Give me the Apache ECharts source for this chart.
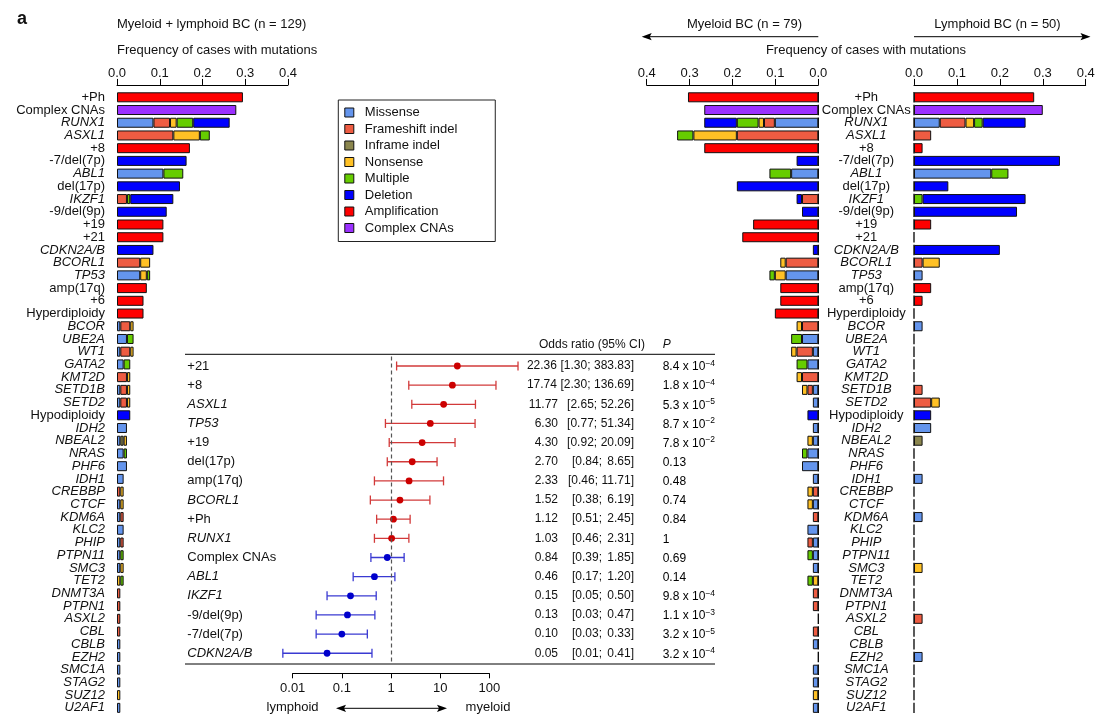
<!DOCTYPE html>
<html><head><meta charset="utf-8">
<script src="https://cdn.jsdelivr.net/npm/echarts@6/dist/echarts.min.js"></script>
<style>html,body{margin:0;padding:0;background:#fff}#c{width:1107px;height:719px}</style>
</head><body><div id="c"></div>
<script>
// ---------------- DATA ----------------
const categories = ['+Ph','Complex CNAs','RUNX1','ASXL1','+8','-7/del(7p)','ABL1','del(17p)','IKZF1','-9/del(9p)',
  '+19','+21','CDKN2A/B','BCORL1','TP53','amp(17q)','+6','Hyperdiploidy','BCOR','UBE2A',
  'WT1','GATA2','KMT2D','SETD1B','SETD2','Hypodiploidy','IDH2','NBEAL2','NRAS','PHF6',
  'IDH1','CREBBP','CTCF','KDM6A','KLC2','PHIP','PTPN11','SMC3','TET2','DNMT3A',
  'PTPN1','ASXL2','CBL','CBLB','EZH2','SMC1A','STAG2','SUZ12','U2AF1'];
const cnaLabels = ['+Ph','Complex CNAs','+8','-7/del(7p)','del(17p)','-9/del(9p)','+19','+21','amp(17q)','+6','Hyperdiploidy','Hypodiploidy'];
const mutationTypes = ['Missense','Frameshift indel','Inframe indel','Nonsense','Multiple','Deletion','Amplification','Complex CNAs'];
const nMyeloid = 79, nLymphoid = 50;

// case counts, myeloid BC (n = 79)
const myeloidMissense     = [0,0,8,0,0,0,5,0,0,0, 0,0,0,0,6,0,0,0,0,3, 1,2,0,1,1,0,1,1,2,3, 1,0,1,0,2,1,1,1,0,0, 0,0,0,1,0,1,1,0,1];
const myeloidFrameshift   = [0,0,2,15,0,0,0,0,3,0, 0,0,0,6,0,0,0,0,3,0, 3,0,3,1,0,0,0,0,0,0, 0,1,0,1,0,1,0,0,0,1, 1,0,1,0,0,0,0,0,0];
const myeloidInframe      = [0,0,0,0,0,0,0,0,0,0, 0,0,0,0,0,0,0,0,0,0, 0,0,0,0,0,0,0,0,0,0, 0,0,0,0,0,0,0,0,0,0, 0,0,0,0,0,0,0,0,0];
const myeloidNonsense     = [0,0,1,8,0,0,0,0,0,0, 0,0,0,1,2,0,0,0,1,0, 1,0,1,1,0,0,0,1,0,0, 0,1,1,0,0,0,0,0,1,0, 0,0,0,0,0,0,0,1,0];
const myeloidMultiple     = [0,0,4,3,0,0,4,0,0,0, 0,0,0,0,1,0,0,0,0,2, 0,2,0,0,0,0,0,0,1,0, 0,0,0,0,0,0,1,0,1,0, 0,0,0,0,0,0,0,0,0];
const myeloidDeletion     = [0,0,6,0,0,4,0,15,1,3, 0,0,1,0,0,0,0,0,0,0, 0,0,0,0,0,2,0,0,0,0, 0,0,0,0,0,0,0,0,0,0, 0,0,0,0,0,0,0,0,0];
const myeloidAmplification= [24,0,0,0,21,0,0,0,0,0, 12,14,0,0,0,7,7,8,0,0, 0,0,0,0,0,0,0,0,0,0, 0,0,0,0,0,0,0,0,0,0, 0,0,0,0,0,0,0,0,0];
const myeloidComplex      = [0,21,0,0,0,0,0,0,0,0, 0,0,0,0,0,0,0,0,0,0, 0,0,0,0,0,0,0,0,0,0, 0,0,0,0,0,0,0,0,0,0, 0,0,0,0,0,0,0,0,0];

// case counts, lymphoid BC (n = 50)
const lymphoidMissense     = [0,0,3,0,0,0,9,0,0,0, 0,0,0,0,1,0,0,0,1,0, 0,0,0,0,0,0,2,0,0,0, 1,0,0,1,0,0,0,0,0,0, 0,0,0,0,1,0,0,0,0];
const lymphoidFrameshift   = [0,0,3,2,0,0,0,0,0,0, 0,0,0,1,0,0,0,0,0,0, 0,0,0,1,2,0,0,0,0,0, 0,0,0,0,0,0,0,0,0,0, 0,1,0,0,0,0,0,0,0];
const lymphoidInframe      = [0,0,0,0,0,0,0,0,0,0, 0,0,0,0,0,0,0,0,0,0, 0,0,0,0,0,0,0,1,0,0, 0,0,0,0,0,0,0,0,0,0, 0,0,0,0,0,0,0,0,0];
const lymphoidNonsense     = [0,0,1,0,0,0,0,0,0,0, 0,0,0,2,0,0,0,0,0,0, 0,0,0,0,1,0,0,0,0,0, 0,0,0,0,0,0,0,1,0,0, 0,0,0,0,0,0,0,0,0];
const lymphoidMultiple     = [0,0,1,0,0,0,2,0,1,0, 0,0,0,0,0,0,0,0,0,0, 0,0,0,0,0,0,0,0,0,0, 0,0,0,0,0,0,0,0,0,0, 0,0,0,0,0,0,0,0,0];
const lymphoidDeletion     = [0,0,5,0,0,17,0,4,12,12, 0,0,10,0,0,0,0,0,0,0, 0,0,0,0,0,2,0,0,0,0, 0,0,0,0,0,0,0,0,0,0, 0,0,0,0,0,0,0,0,0];
const lymphoidAmplification= [14,0,0,0,1,0,0,0,0,0, 2,0,0,0,0,2,1,0,0,0, 0,0,0,0,0,0,0,0,0,0, 0,0,0,0,0,0,0,0,0,0, 0,0,0,0,0,0,0,0,0];
const lymphoidComplex      = [0,15,0,0,0,0,0,0,0,0, 0,0,0,0,0,0,0,0,0,0, 0,0,0,0,0,0,0,0,0,0, 0,0,0,0,0,0,0,0,0,0, 0,0,0,0,0,0,0,0,0];

const freqTicks = ['0.0','0.1','0.2','0.3','0.4'];

// forest plot (odds ratio myeloid vs lymphoid)
const forestLabels = ['+21','+8','ASXL1','TP53','+19','del(17p)','amp(17q)','BCORL1','+Ph','RUNX1','Complex CNAs','ABL1','IKZF1','-9/del(9p)','-7/del(7p)','CDKN2A/B'];
const oddsRatio = [22.36,17.74,11.77,6.30,4.30,2.70,2.33,1.52,1.12,1.03,0.84,0.46,0.15,0.13,0.10,0.05];
const ciLower   = [1.30,2.30,2.65,0.77,0.92,0.84,0.46,0.38,0.51,0.46,0.39,0.17,0.05,0.03,0.03,0.0063];
const ciUpper   = [383.83,136.69,52.26,51.34,20.09,8.65,11.71,6.19,2.45,2.31,1.85,1.20,0.50,0.47,0.33,0.41];
const pValues   = [8.4e-4,1.8e-4,5.3e-5,8.7e-2,7.8e-2,0.13,0.48,0.74,0.84,1,0.69,0.14,9.8e-4,1.1e-3,3.2e-5,3.2e-4];
const forestTicks = ['0.01','0.1','1','10','100'];

// ---------------- STYLE ----------------
const FONT = '"Liberation Sans", Arial, Helvetica, sans-serif';
const TXT = '#111';
const typeColors = ['#6495ED','#EE5C42','#8B864E','#FFC125','#66CD00','#0000FF','#FF0000','#9B30FF'];

const myeloidCounts = [myeloidMissense,myeloidFrameshift,myeloidInframe,myeloidNonsense,myeloidMultiple,myeloidDeletion,myeloidAmplification,myeloidComplex];
const lymphoidCounts = [lymphoidMissense,lymphoidFrameshift,lymphoidInframe,lymphoidNonsense,lymphoidMultiple,lymphoidDeletion,lymphoidAmplification,lymphoidComplex];

const TOP = 90.94, ROWH = 12.72, H = ROWH * categories.length;

const measureCtx = document.createElement('canvas').getContext('2d');
function textW(s, font) { measureCtx.font = font; return measureCtx.measureText(s).width; }

const labelRich = {
  n: {fontSize: 13, fontFamily: FONT, color: TXT, fontStyle: 'normal'},
  i: {fontSize: 13, fontFamily: FONT, color: TXT, fontStyle: 'italic'}
};
const labelFmt = v => cnaLabels.includes(v) ? '{n|' + v + '}' : '{i|' + v + '}';

function freqAxis(gi, inverse) {
  return {
    type: 'value', gridIndex: gi, position: 'top', min: 0, max: 0.4, interval: 0.1, inverse: inverse,
    offset: 6,
    axisLine: {show: true, onZero: false, lineStyle: {color: '#000', width: 1}},
    axisTick: {show: true, length: 6, lineStyle: {color: '#000', width: 1}},
    axisLabel: {margin: 5.5, fontSize: 13, fontFamily: FONT, color: TXT,
      formatter: v => freqTicks[Math.round(v * 10)]},
    splitLine: {show: false}
  };
}

const series = [];
mutationTypes.forEach((name, t) => {
  const comb = categories.map((c, i) => myeloidCounts[t][i] + lymphoidCounts[t][i]);
  const base = {type: 'bar', name: name, barWidth: 10, animation: false,
    itemStyle: {color: typeColors[t], borderColor: '#111', borderWidth: 1}};
  series.push(Object.assign({}, base, {xAxisIndex: 0, yAxisIndex: 0, stack: 'all',
    data: comb.map(v => v ? v / (nMyeloid + nLymphoid) : '-')}));
  series.push(Object.assign({}, base, {xAxisIndex: 1, yAxisIndex: 1, stack: 'mye',
    data: myeloidCounts[t].map(v => v ? v / nMyeloid : '-')}));
  series.push(Object.assign({}, base, {xAxisIndex: 2, yAxisIndex: 2, stack: 'lym',
    data: lymphoidCounts[t].map(v => v ? v / nLymphoid : '-')}));
});

// zero baseline ticks of the myeloid / lymphoid panels (one short segment per row)
[1, 2].forEach(ax => {
  series.push({
    type: 'custom', name: 'zero' + ax, xAxisIndex: ax, yAxisIndex: ax, clip: false, animation: false, silent: true,
    encode: {x: 0, y: 1},
    data: categories.map((c, i) => [0, i]),
    renderItem: (params, api) => {
      const pt = api.coord([0, api.value(1)]);
      return {type: 'line', shape: {x1: pt[0], y1: pt[1] - 5.2, x2: pt[0], y2: pt[1] + 5.2},
        style: {stroke: '#000', lineWidth: 1.3}};
    }
  });
});

function pRich(p) {
  if (p < 0.1) {
    const e = Math.floor(Math.log10(p) + 1e-9);
    const m = (p / Math.pow(10, e)).toFixed(1);
    return '{a|' + m + ' x 10}{b|\u2212' + Math.abs(e) + '}';
  }
  return '{a|' + String(p) + '}';
}

const F12 = '12px ' + FONT;
function renderForest(params, api) {
  const or = api.value(0), i = api.value(1), lo = api.value(2), hi = api.value(3), p = api.value(4);
  const pt = api.coord([or, i]);
  const y = pt[1];
  const xl = api.coord([lo, i])[0], xh = api.coord([hi, i])[0];
  const up = or >= 1;
  const lineC = up ? '#D23A3A' : '#3A3AD2';
  const dotC = up ? '#CC0000' : '#0000CC';
  const name = forestLabels[i];
  const it = cnaLabels.includes(name) ? '' : 'italic ';
  const hiTxt = hi.toFixed(2) + ']';
  const loTxt = '[' + lo.toFixed(2) + ';';
  const hiStart = 634 - textW(hiTxt, F12);
  const loLeft = Math.min(572, hiStart - 3.5 - textW(loTxt, F12));
  const orRight = Math.min(558, loLeft - 3.5);
  return {
    type: 'group',
    children: [
      {type: 'line', shape: {x1: xl, y1: y, x2: xh, y2: y}, style: {stroke: lineC, lineWidth: 1.3}},
      {type: 'line', shape: {x1: xl, y1: y - 4.5, x2: xl, y2: y + 4.5}, style: {stroke: lineC, lineWidth: 1.3}},
      {type: 'line', shape: {x1: xh, y1: y - 4.5, x2: xh, y2: y + 4.5}, style: {stroke: lineC, lineWidth: 1.3}},
      {type: 'circle', shape: {cx: pt[0], cy: y, r: 3.4}, style: {fill: dotC}},
      {type: 'text', x: 187.3, y: y, style: {text: name, font: it + '13px ' + FONT, fill: TXT, align: 'left', verticalAlign: 'middle'}},
      {type: 'text', x: orRight, y: y, style: {text: or.toFixed(2), font: F12, fill: TXT, align: 'right', verticalAlign: 'middle'}},
      {type: 'text', x: loLeft, y: y, style: {text: loTxt, font: F12, fill: TXT, align: 'left', verticalAlign: 'middle'}},
      {type: 'text', x: 634, y: y, style: {text: hiTxt, font: F12, fill: TXT, align: 'right', verticalAlign: 'middle'}},
      {type: 'text', x: 662.7, y: y + 1, style: {text: pRich(p), align: 'left', verticalAlign: 'middle',
        rich: {a: {fontSize: 12, fontFamily: FONT, color: TXT, lineHeight: 16},
               b: {fontSize: 8.5, fontFamily: FONT, color: TXT, lineHeight: 16, verticalAlign: 'top', padding: [0, 0, 8, 0]}}}}
    ]
  };
}

series.push({
  type: 'custom', name: 'forest', xAxisIndex: 3, yAxisIndex: 3, clip: false, animation: false,
  renderItem: renderForest,
  encode: {x: 0, y: 1},
  data: forestLabels.map((l, i) => [oddsRatio[i], i, ciLower[i], ciUpper[i], pValues[i]]),
  markLine: {silent: true, symbol: 'none', animation: false, label: {show: false},
    lineStyle: {type: [4, 3], color: '#555', width: 1.2}, data: [{xAxis: 1}]}
});

function txt(x, y, text, opts) {
  return Object.assign({type: 'text', x: x, y: y, silent: true,
    style: Object.assign({text: text, font: '13px ' + FONT, fill: TXT, align: 'left', verticalAlign: 'middle'}, opts || {})});
}
function hline(x1, x2, y, w) {
  return {type: 'line', silent: true, shape: {x1: x1, y1: y, x2: x2, y2: y}, style: {stroke: '#000', lineWidth: w || 1}};
}
function head(x, y, dir) {
  return {type: 'polygon', silent: true, shape: {points: [[x, y], [x - dir * 10, y - 3.6], [x - dir * 8, y], [x - dir * 10, y + 3.6]]}, style: {fill: '#000'}};
}

const graphics = [
  txt(17, 19, 'a', {font: 'bold 18px ' + FONT}),
  txt(117, 24.5, 'Myeloid + lymphoid BC (n = 129)'),
  txt(117, 50, 'Frequency of cases with mutations'),
  txt(744.5, 24.5, 'Myeloid BC (n = 79)', {align: 'center'}),
  hline(644, 818.3, 36.7), head(641.7, 36.7, -1),
  txt(866, 50, 'Frequency of cases with mutations', {align: 'center'}),
  txt(997.5, 24.5, 'Lymphoid BC (n = 50)', {align: 'center'}),
  hline(914, 1088, 36.7), head(1090.5, 36.7, 1),
  txt(645, 344.3, 'Odds ratio (95% CI)', {align: 'right', font: '12px ' + FONT}),
  txt(662.7, 344.3, 'P', {font: 'italic 12px ' + FONT}),
  hline(185, 715, 354.3), hline(185, 715, 664),
  txt(292.5, 707.5, 'lymphoid', {align: 'center'}),
  txt(488, 707.5, 'myeloid', {align: 'center'}),
  hline(340, 443, 708.3), head(336, 708.3, -1), head(447, 708.3, 1)
];

const grids = [
  {left: 117, top: TOP, width: 171, height: H},
  {left: 646.7, top: TOP, width: 171.6, height: H},
  {left: 914, top: TOP, width: 171.7, height: H},
  {left: 292.7, top: 356.4, width: 196.6, height: 306.4}
].map(g => Object.assign({containLabel: false, outerBoundsMode: 'none', show: false}, g));

const option = {
  animation: false,
  backgroundColor: '#fff',
  textStyle: {fontFamily: FONT},
  grid: grids,
  legend: {
    show: true, left: 338.3, top: 100, orient: 'vertical', data: mutationTypes, icon: 'rect',
    itemWidth: 9, itemHeight: 9, itemGap: 3.5, padding: [6, 38, 7, 6],
    borderColor: '#222', borderWidth: 1, backgroundColor: '#fff', selectedMode: false,
    itemStyle: {borderColor: '#111', borderWidth: 1},
    textStyle: {fontSize: 13, fontFamily: FONT, color: TXT, lineHeight: 13, padding: [0, 0, 0, 6]}
  },
  xAxis: [
    freqAxis(0, false),
    freqAxis(1, true),
    freqAxis(2, false),
    {type: 'log', logBase: 10, gridIndex: 3, position: 'bottom', min: 0.01, max: 100, offset: 10.5,
      axisLine: {show: true, onZero: false, lineStyle: {color: '#000', width: 1}},
      axisTick: {show: true, length: 5, lineStyle: {color: '#000', width: 1}},
      axisLabel: {margin: 8.5, fontSize: 13, fontFamily: FONT, color: TXT,
        formatter: v => forestTicks[Math.round(Math.log10(v)) + 2]},
      splitLine: {show: false}, minorTick: {show: false}}
  ],
  yAxis: [
    {type: 'category', gridIndex: 0, data: categories, inverse: true, position: 'left',
      axisLine: {show: false}, axisTick: {show: false}, splitLine: {show: false},
      axisLabel: {margin: 12, interval: 0, formatter: labelFmt, rich: labelRich}},
    {type: 'category', gridIndex: 1, data: categories, inverse: true, position: 'right',
      axisLine: {show: false}, axisTick: {show: false}, splitLine: {show: false},
      axisLabel: {margin: 48, interval: 0, align: 'center', formatter: labelFmt, rich: labelRich}},
    {type: 'category', gridIndex: 2, data: categories, inverse: true, position: 'left',
      axisLine: {show: false}, axisTick: {show: false}, splitLine: {show: false},
      axisLabel: {show: false}},
    {type: 'value', gridIndex: 3, min: -0.5, max: 15.5, inverse: true, show: false}
  ],
  series: series,
  graphic: graphics
};

const chart = echarts.init(document.getElementById('c'), null, {renderer: 'canvas'});
chart.setOption(option);
</script></body></html>
